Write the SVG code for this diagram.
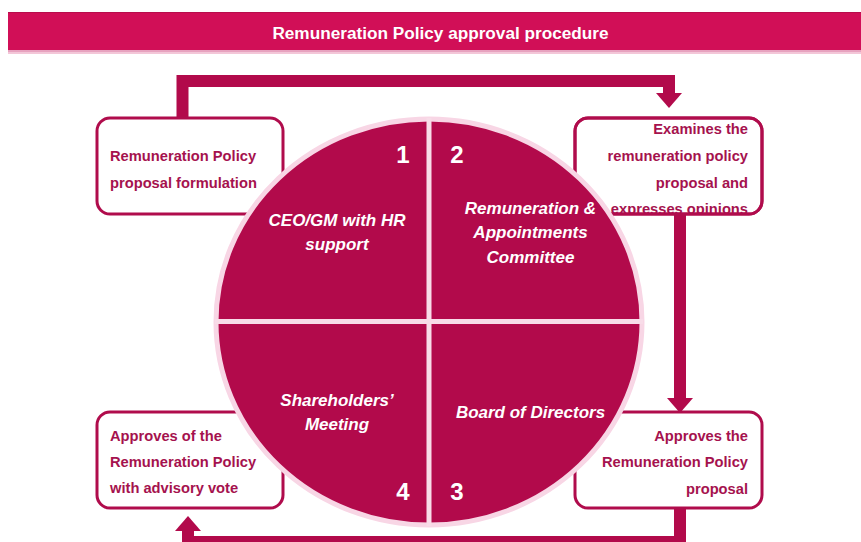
<svg xmlns="http://www.w3.org/2000/svg" width="861" height="542" viewBox="0 0 861 542">
  <style>
    .box { fill: #ffffff; stroke: #B00C4C; stroke-width: 3; }
    .btxt { font-family: "Liberation Sans", Arial, sans-serif; font-weight: bold; font-size: 14.7px; fill: #A5124E; }
    .ctxt { font-family: "Liberation Sans", Arial, sans-serif; font-weight: bold; font-style: italic; font-size: 17px; fill: #ffffff; text-anchor: middle; }
    .num { font-family: "Liberation Sans", Arial, sans-serif; font-weight: bold; font-size: 24px; fill: #ffffff; text-anchor: middle; }
    .conn { fill: none; stroke: #B20A4B; stroke-width: 12; stroke-linejoin: miter; stroke-linecap: butt; }
    .r { text-anchor: end; }
  </style>
  <defs>
    <marker id="arrow" markerUnits="userSpaceOnUse" viewBox="0 0 15 26" refX="0" refY="13" markerWidth="15" markerHeight="26" orient="auto">
      <path d="M0,0 L15,13 L0,26 Z" fill="#B20A4B"/>
    </marker>
    <clipPath id="clipTR">
      <rect x="575" y="118" width="187" height="95"/>
    </clipPath>
  </defs>

  <!-- Title -->
  <g id="title">
    <rect x="8" y="52" width="853" height="2" fill="#F3C6D8"/>
    <rect x="8" y="50" width="853" height="2" fill="#E7A2BF"/>
    <rect x="8" y="12" width="853" height="38" fill="#D10F57"/>
    <rect x="8" y="12" width="853" height="1" fill="#B80D4C"/>
    <text x="440.5" y="39" font-family="Liberation Sans, Arial, sans-serif" font-weight="bold" font-size="17.2" fill="#ffffff" text-anchor="middle">Remuneration Policy approval procedure</text>
  </g>

  <!-- Connectors -->
  <g id="connectors">
    <path class="conn" d="M182.5,118 V81 H669 V93" marker-end="url(#arrow)"/>
    <path class="conn" d="M680,214 V398" marker-end="url(#arrow)"/>
    <path class="conn" d="M680,508 V542 H188 V531" marker-end="url(#arrow)"/>
  </g>

  <!-- Boxes -->
  <g id="box-formulation">
    <rect class="box" x="97" y="118" width="186" height="96" rx="13"/>
    <text class="btxt" x="110" y="161">Remuneration Policy</text>
    <text class="btxt" x="110" y="188">proposal formulation</text>
  </g>
  <g id="box-examines">
    <rect class="box" x="575" y="118" width="187" height="96" rx="13"/>
    <g clip-path="url(#clipTR)">
      <text class="btxt r" x="748" y="134">Examines the</text>
      <text class="btxt r" x="748" y="161">remuneration policy</text>
      <text class="btxt r" x="748" y="188">proposal and</text>
      <text class="btxt r" x="748" y="214">expresses opinions</text>
    </g>
    <rect x="575" y="118" width="187" height="96" rx="13" fill="none" stroke="#B00C4C" stroke-width="3"/>
  </g>
  <g id="box-approves-board">
    <rect class="box" x="575" y="412" width="187" height="96" rx="13"/>
    <text class="btxt r" x="748" y="441">Approves the</text>
    <text class="btxt r" x="748" y="467">Remuneration Policy</text>
    <text class="btxt r" x="748" y="494">proposal</text>
  </g>
  <g id="box-approves-shareholders">
    <rect class="box" x="97" y="412" width="186" height="96" rx="13"/>
    <text class="btxt" x="110" y="441">Approves of the</text>
    <text class="btxt" x="110" y="467">Remuneration Policy</text>
    <text class="btxt" x="110" y="493">with advisory vote</text>
  </g>

  <!-- Circle -->
  <g id="circle">
    <ellipse cx="429" cy="322" rx="213" ry="203" fill="#B20A4B" stroke="#F8D6E5" stroke-width="5"/>
    <rect x="426.5" y="118" width="5" height="408" fill="#F8DCE8"/>
    <rect x="215" y="319" width="428" height="5" fill="#F8DCE8"/>
  </g>
  <g id="q1-ceo">
    <text class="num" x="403" y="163">1</text>
    <text class="ctxt" x="337" y="226">CEO/GM with HR</text>
    <text class="ctxt" x="337" y="250">support</text>
  </g>
  <g id="q2-committee">
    <text class="num" x="457" y="163">2</text>
    <text class="ctxt" x="530.5" y="214">Remuneration &amp;</text>
    <text class="ctxt" x="530.5" y="238">Appointments</text>
    <text class="ctxt" x="530.5" y="263">Committee</text>
  </g>
  <g id="q3-board">
    <text class="num" x="457" y="500">3</text>
    <text class="ctxt" x="530.5" y="418">Board of Directors</text>
  </g>
  <g id="q4-shareholders">
    <text class="num" x="403" y="500">4</text>
    <text class="ctxt" x="337" y="406">Shareholders’</text>
    <text class="ctxt" x="337" y="430">Meeting</text>
  </g>
</svg>
